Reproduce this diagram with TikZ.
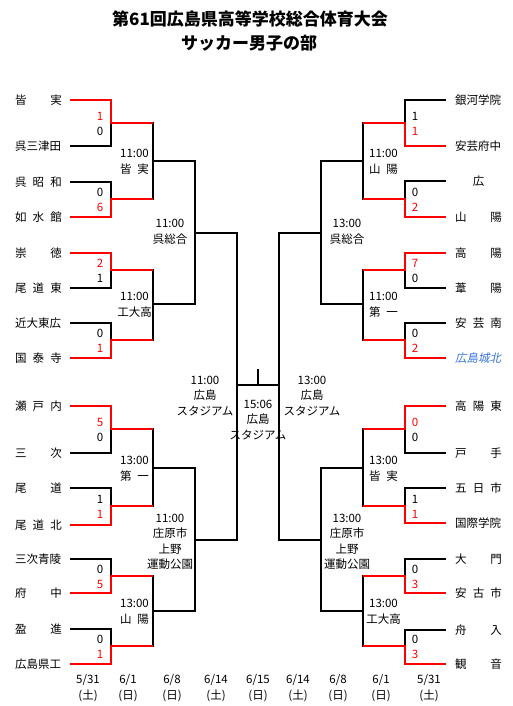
\documentclass[tikz,border=0pt]{standalone}
\usepackage{fontspec}
\setmainfont{Noto Sans CJK JP}
\newfontfamily\slantjp{Noto Sans CJK JP}[FakeSlant=0.2]
\usetikzlibrary{positioning,calc}

\definecolor{winred}{RGB}{255,0,0}
\definecolor{cityblue}{RGB}{55,115,220}
\newcommand{\spread}[2]{\makebox[#1][s]{#2}}

\begin{document}
\begin{tikzpicture}[
    x=1pt, y=-1pt,
    line/.style={line width=2pt},
    win/.style={line width=2pt, winred},
    team/.style={inner sep=0pt, font=\fontsize{11.5}{14}\selectfont},
    score/.style={inner sep=0pt, font=\fontsize{11.5}{14}\selectfont},
    info/.style={inner sep=0pt, align=center, font=\fontsize{11.5}{15.5}\selectfont},
    head/.style={inner sep=0pt, font=\fontsize{17}{20}\selectfont\bfseries}
  ]
    \useasboundingbox (0,0) rectangle (512,706);

    % Title
    \node[head] (title) at (250,19) {第61回広島県高等学校総合体育大会};
    \node[head] (subtitle) at (249,43) {サッカー男子の部};

    % Teams: left block
    \foreach \n/\y/\name in {1/100/皆\hfill 実, 2/146/呉三津田, 3/182/呉\hfill 昭\hfill 和,
        4/217/如\hfill 水\hfill 館, 5/253/崇\hfill 徳, 6/288/尾\hfill 道\hfill 東,
        7/323/近大東広, 8/358/国\hfill 泰\hfill 寺, 9/406/瀬\hfill 戸\hfill 内,
        10/453/三\hfill 次, 11/488/尾\hfill 道, 12/525/尾\hfill 道\hfill 北,
        13/559/三次青陵, 14/593/府\hfill 中, 15/629/盈\hfill 進, 16/664/広島県工} {
      \node[team] (L\n) at (38.5,\y) {\spread{47pt}{\name}};
      \coordinate (tL\n) at ([xshift=8pt]L\n.east);
    }
    % Teams: right block
    \foreach \n/\y/\name in {1/100/銀河学院, 2/146/安芸府中, 3/181/\hfill 広\hfill,
        4/217/山\hfill 陽, 5/253/高\hfill 陽, 6/288/葦\hfill 陽, 7/323/安\hfill 芸\hfill 南,
        8/358/{\slantjp\color{cityblue}広島城北}, 9/406/高\hfill 陽\hfill 東,
        10/453/戸\hfill 手, 11/488/五\hfill 日\hfill 市, 12/523/国際学院,
        13/559/大\hfill 門, 14/593/安\hfill 古\hfill 市, 15/630/舟\hfill 入, 16/664/観\hfill 音} {
      \node[team] (R\n) at (478.5,\y) {\spread{47pt}{\name}};
      \coordinate (tR\n) at ([xshift=-9pt]R\n.west);
    }

    % Joints of each round
    \foreach \k/\y in {1/123,2/199,3/270,4/340,5/429,6/506,7/576,8/646} {
      \coordinate (mL\k) at (111,\y);
      \coordinate (mR\k) at (405,\y);
    }
    \foreach \k/\y in {1/161,2/304,3/468,4/611} {
      \coordinate (qL\k) at (153,\y);
      \coordinate (qR\k) at (363,\y);
    }
    \coordinate (hL1) at (195,233);
    \coordinate (hL2) at (195,540);
    \coordinate (hR1) at (321,233);
    \coordinate (hR2) at (321,540);
    \coordinate (fL) at (237,385);
    \coordinate (fR) at (279,385);
    \coordinate (fC) at (258,385);
    \coordinate (fT) at (258,369);

    % Bracket
    \foreach \s in {L,R} {
      \foreach \k in {1,...,8} {
        \pgfmathtruncatemacro\a{2*\k-1}
        \pgfmathtruncatemacro\b{2*\k}
        \pgfmathtruncatemacro\q{(\k+1)/2}
        \draw[line] (t\s\a) -| (m\s\k) (t\s\b) -| (m\s\k) (m\s\k) -| (q\s\q);
      }
      \foreach \k in {1,...,4} {
        \pgfmathtruncatemacro\h{(\k+1)/2}
        \draw[line] (q\s\k) -| (h\s\h);
      }
      \draw[line] (h\s1) -| (f\s) (h\s2) -| (f\s);
    }
    \draw[line] (fL) -- (fR) (fC) -- (fT);

    % Winners
    \foreach \s/\k/\n in {L/1/1, L/2/4, L/3/5, L/4/8, L/5/9, L/6/12, L/7/14, L/8/16,
        R/1/2, R/2/4, R/3/5, R/4/8, R/5/9, R/6/12, R/7/14, R/8/16} {
      \pgfmathtruncatemacro\q{(\k+1)/2}
      \draw[win] (t\s\n) -| (m\s\k) -- (m\s\k -| q\s\q);
    }

    % Scores
    \foreach \k/\a/\ca/\b/\cb in {1/1/winred/0/black, 2/0/black/6/winred, 3/2/winred/1/black,
        4/0/black/1/winred, 5/5/winred/0/black, 6/1/black/1/winred,
        7/0/black/5/winred, 8/0/black/1/winred} {
      \node[score, text=\ca] (sL\k-1) at ($(mL\k)+(-11,-7)$) {\a};
      \node[score, text=\cb] (sL\k-2) at ($(mL\k)+(-11,8)$) {\b};
    }
    \foreach \k/\a/\ca/\b/\cb in {1/1/black/1/winred, 2/0/black/2/winred, 3/7/winred/0/black,
        4/0/black/2/winred, 5/0/winred/0/black, 6/1/black/1/winred,
        7/0/black/3/winred, 8/0/black/3/winred} {
      \node[score, text=\ca] (sR\k-1) at ($(mR\k)+(10,-7)$) {\a};
      \node[score, text=\cb] (sR\k-2) at ($(mR\k)+(10,8)$) {\b};
    }

    % Kick-off and venue
    \node[info] (vL1) at ($(qL1)+(-18.5,1)$) {11:00\\\spread{29pt}{皆\hfill 実}};
    \node[info] (vL2) at ($(qL2)+(-18.5,1)$) {11:00\\工大高};
    \node[info] (vL3) at ($(qL3)+(-18.5,1)$) {13:00\\\spread{29pt}{第\hfill 一}};
    \node[info] (vL4) at ($(qL4)+(-18.5,1)$) {13:00\\\spread{29pt}{山\hfill 陽}};
    \node[info] (vR1) at ($(qR1)+(20.5,1)$) {11:00\\\spread{29pt}{山\hfill 陽}};
    \node[info] (vR2) at ($(qR2)+(20.5,1)$) {11:00\\\spread{29pt}{第\hfill 一}};
    \node[info] (vR3) at ($(qR3)+(20.5,1)$) {13:00\\\spread{29pt}{皆\hfill 実}};
    \node[info] (vR4) at ($(qR4)+(20.5,1)$) {13:00\\工大高};
    \node[info] (wL1) at ($(hL1)+(-25,-1)$) {11:00\\呉総合};
    \node[info] (wL2) at ($(hL2)+(-25,2)$) {11:00\\庄原市\\上野\\運動公園};
    \node[info] (wR1) at ($(hR1)+(26,-1)$) {13:00\\呉総合};
    \node[info] (wR2) at ($(hR2)+(26,2)$) {13:00\\庄原市\\上野\\運動公園};
    \node[info] (xL) at ($(fL)+(-32,11)$) {11:00\\広島\\スタジアム};
    \node[info] (xR) at ($(fR)+(33,11)$) {13:00\\広島\\スタジアム};
    \node[info] (xC) at ($(fC)+(0,35)$) {15:06\\広島\\スタジアム};

    % Dates
    \foreach \i/\x/\d/\w in {1/88/5\slash 31/土, 2/128/6\slash 1/日, 3/172/6\slash 8/日,
        4/216/6\slash 14/土, 5/258/6\slash 15/日, 6/298/6\slash 14/土,
        7/338/6\slash 8/日, 8/381/6\slash 1/日, 9/429/5\slash 31/土} {
      \node[info] (d\i) at (\x,688) {\d\\(\w)};
    }
\end{tikzpicture}
\end{document}
